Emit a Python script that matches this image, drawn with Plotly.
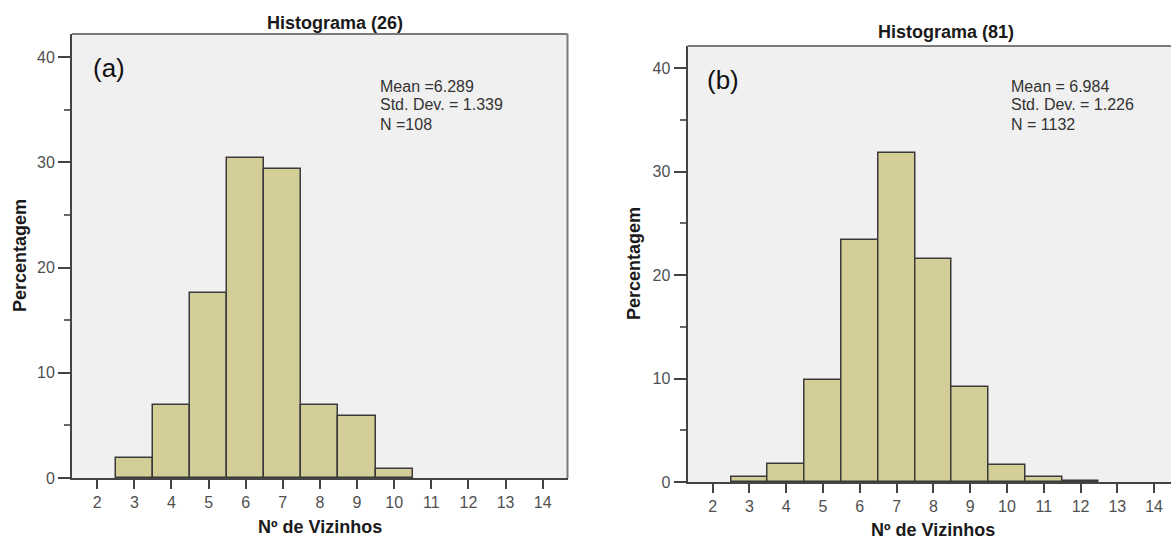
import plotly.graph_objects as go

# ---- data ----
bins_a = [3, 4, 5, 6, 7, 8, 9, 10]
pct_a = [1.9, 6.9, 17.6, 30.4, 29.4, 6.9, 5.9, 0.9]
bins_b = [3, 4, 5, 6, 7, 8, 9, 10, 11, 12]
pct_b = [0.48, 1.7, 9.9, 23.35, 31.8, 21.55, 9.15, 1.6, 0.48, 0.1]
x_ticks = list(range(2, 15))
y_ticks = [0, 10, 20, 30, 40]
title_a = "Histograma (26)"
title_b = "Histograma (81)"
stats_a = ["Mean =6.289", "Std. Dev. = 1.339", "N =108"]
stats_b = ["Mean = 6.984", "Std. Dev. = 1.226", "N = 1132"]
x_title = "Nº de Vizinhos"
y_title = "Percentagem"

W, H = 1171, 539
FONT = "Liberation Sans, Arial, sans-serif"
BAR_FILL = "#d3ce97"
BAR_LINE = "#3a3a3a"
BG = "#f0f0f0"
AXIS = "#444444"

def px(x):
    return x / W

def py(y):
    return (H - y) / H

fig = go.Figure()
fig.add_trace(go.Bar(x=bins_a, y=pct_a, width=1, xaxis="x", yaxis="y",
                     marker=dict(color=BAR_FILL, line=dict(color=BAR_LINE, width=1.5)),
                     showlegend=False))
fig.add_trace(go.Bar(x=bins_b, y=pct_b, width=1, xaxis="x2", yaxis="y2",
                     marker=dict(color=BAR_FILL, line=dict(color=BAR_LINE, width=1.5)),
                     showlegend=False))

tickfont = dict(family=FONT, size=16, color="#505050")

def xax(domain, rng, anchor):
    return dict(domain=domain, range=rng, anchor=anchor, tickvals=x_ticks,
                ticks="outside", ticklen=9, tickwidth=2, tickcolor=AXIS,
                showline=True, linecolor=AXIS, linewidth=2, showgrid=False,
                zeroline=False, tickfont=tickfont, fixedrange=True,
                automargin=False)

def yax(domain, rng, anchor):
    return dict(domain=domain, range=rng, anchor=anchor, tickvals=y_ticks,
                ticks="outside", ticklen=12, tickwidth=1.5, tickcolor=AXIS,
                minor=dict(tickvals=[5, 15, 25, 35], ticks="outside", ticklen=6,
                           tickwidth=1.5, tickcolor="#666666", showgrid=False),
                showline=True, linecolor=AXIS, linewidth=2, showgrid=False,
                zeroline=False, tickfont=tickfont, fixedrange=True,
                automargin=False)

fig.update_layout(
    template="none",
    width=W, height=H,
    margin=dict(l=0, r=0, t=0, b=0, pad=0),
    paper_bgcolor="white", plot_bgcolor=BG,
    bargap=0,
    xaxis=xax([px(72), px(567.5)], [1.32, 14.67], "y"),
    yaxis=yax([py(478), py(34)], [0, 42.2], "x"),
    xaxis2=xax([px(687.5), 1.0], [1.315, 14.46], "y2"),
    yaxis2=yax([py(482), py(46)], [0, 42.13], "x2"),
)

# borders (top and right of left panel, top of right panel)
shapes = [
    dict(type="line", xref="x domain", yref="y domain", x0=0, x1=1, y0=1, y1=1,
         line=dict(color="#7a7a7a", width=2)),
    dict(type="line", xref="x domain", yref="y domain", x0=1, x1=1, y0=0, y1=1,
         line=dict(color="#7a7a7a", width=2)),
    dict(type="line", xref="x2 domain", yref="y2 domain", x0=0, x1=1, y0=1, y1=1,
         line=dict(color="#7a7a7a", width=2)),
]
fig.update_layout(shapes=shapes)

ann = []
title_font = dict(family=FONT, size=18, color="#1a1a1a")
stat_font = dict(family=FONT, size=16, color="#333333")
lab_font = dict(family=FONT, size=26, color="#111111")

def add(text, x, y, font, xanchor="center", yanchor="middle", angle=0):
    ann.append(dict(text=text, x=px(x), y=py(y), xref="paper", yref="paper",
                    xanchor=xanchor, yanchor=yanchor, showarrow=False,
                    font=font, textangle=angle))

# titles
add("<b>" + title_a + "</b>", 335, 23, title_font)
add("<b>" + title_b + "</b>", 946, 32, title_font)
# axis titles
add("<b>" + x_title + "</b>", 320, 527, title_font)
add("<b>" + x_title + "</b>", 933, 530, title_font)
add("<b>" + y_title + "</b>", 20, 256, title_font, angle=-90)
add("<b>" + y_title + "</b>", 634, 264, title_font, angle=-90)
# panel labels
add("(a)", 91, 68, lab_font, xanchor="left")
add("(b)", 705, 80, lab_font, xanchor="left")
# stats
for i, s in enumerate(stats_a):
    add(s, 378, 86 + 19 * i, stat_font, xanchor="left")
for i, s in enumerate(stats_b):
    add(s, 1009, 86 + 19 * i, stat_font, xanchor="left")

fig.update_layout(annotations=ann)
fig.write_html("out.html")
